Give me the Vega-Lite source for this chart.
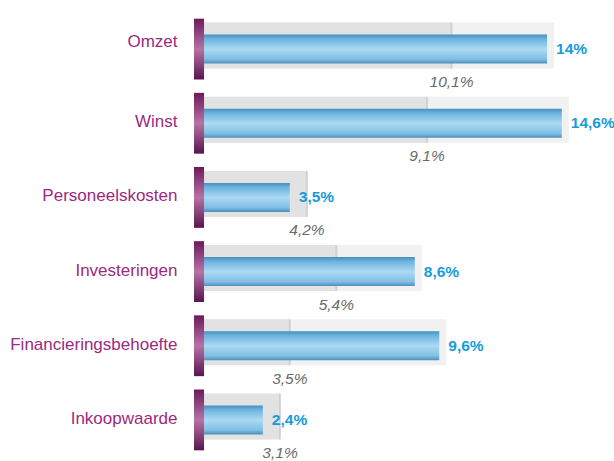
{
  "$schema": "https://vega.github.io/schema/vega-lite/v6.json",
  "width": 420,
  "height": 445,
  "autosize": {"type": "none"},
  "padding": {"left": 194, "top": 12, "right": 0, "bottom": 4},
  "background": "white",
  "config": {"view": {"stroke": null}},
  "data": {
    "values": [
      {"cat": "Omzet", "value": 14.0, "prev": 10.1, "label": "14%", "prevLabel": "10,1%"},
      {"cat": "Winst", "value": 14.6, "prev": 9.1, "label": "14,6%", "prevLabel": "9,1%"},
      {"cat": "Personeelskosten", "value": 3.5, "prev": 4.2, "label": "3,5%", "prevLabel": "4,2%"},
      {"cat": "Investeringen", "value": 8.6, "prev": 5.4, "label": "8,6%", "prevLabel": "5,4%"},
      {"cat": "Financieringsbehoefte", "value": 9.6, "prev": 3.5, "label": "9,6%", "prevLabel": "3,5%"},
      {"cat": "Inkoopwaarde", "value": 2.4, "prev": 3.1, "label": "2,4%", "prevLabel": "3,1%"}
    ]
  },
  "encoding": {
    "y": {
      "field": "cat",
      "type": "nominal",
      "sort": null,
      "scale": {"paddingInner": 0, "paddingOuter": 0},
      "axis": {
        "title": null,
        "domain": false,
        "ticks": false,
        "tickSize": 0,
        "grid": false,
        "labelPadding": 17,
        "labelFont": "Liberation Sans",
        "labelFontSize": 17,
        "labelColor": "#9b2a80",
        "labelLimit": 250,
        "labelOffset": {"condition": {"test": "datum.value === 'Omzet'", "value": -7}, "value": -1}
      }
    }
  },
  "layer": [
    {
      "mark": {"type": "bar", "color": "#f1f1f1", "height": {"band": 0.62}, "yOffset": -3.5, "xOffset": 7},
      "encoding": {
        "x": {"field": "value", "type": "quantitative", "scale": {"domain": [-0.41, 16.73], "nice": false, "zero": false}, "axis": null},
        "x2": {"datum": 0}
      }
    },
    {
      "mark": {"type": "bar", "color": "#e2e2e2", "height": {"band": 0.62}, "yOffset": -3.5},
      "encoding": {
        "x": {"field": "prev", "type": "quantitative"},
        "x2": {"datum": 0}
      }
    },
    {
      "mark": {"type": "tick", "orient": "vertical", "size": 46, "thickness": 2, "color": "#c8c8c8", "yOffset": -3.5},
      "encoding": {
        "x": {"field": "prev", "type": "quantitative"}
      }
    },
    {
      "mark": {
        "type": "bar",
        "height": {"band": 0.39},
        "color": {
          "gradient": "linear", "x1": 0, "y1": 0, "x2": 0, "y2": 1,
          "stops": [
            {"offset": 0, "color": "#4690c0"},
            {"offset": 0.15, "color": "#6cb3de"},
            {"offset": 0.5, "color": "#acd9f3"},
            {"offset": 0.85, "color": "#80bfe3"},
            {"offset": 1, "color": "#4d90bc"}
          ]
        }
      },
      "encoding": {
        "x": {"field": "value", "type": "quantitative"},
        "x2": {"datum": 0}
      }
    },
    {
      "mark": {
        "type": "bar",
        "height": {"band": 0.82},
        "color": {
          "gradient": "linear", "x1": 0, "y1": 0, "x2": 0, "y2": 1,
          "stops": [
            {"offset": 0, "color": "#6b1a5c"},
            {"offset": 0.5, "color": "#b673a6"},
            {"offset": 1, "color": "#5a1450"}
          ]
        }
      },
      "encoding": {
        "x": {"datum": -0.41, "type": "quantitative"},
        "x2": {"datum": 0}
      }
    },
    {
      "mark": {"type": "text", "align": "left", "baseline": "middle", "dx": 9, "font": "Liberation Sans", "fontWeight": "bold", "fontSize": 15.5, "color": "#169bdb"},
      "encoding": {
        "x": {"field": "value", "type": "quantitative"},
        "text": {"field": "label"}
      }
    },
    {
      "mark": {"type": "text", "align": "center", "baseline": "middle", "yOffset": 33, "font": "Liberation Sans", "fontStyle": "italic", "fontSize": 15.5, "color": "#6a6a6a"},
      "encoding": {
        "x": {"field": "prev", "type": "quantitative"},
        "text": {"field": "prevLabel"}
      }
    }
  ]
}
